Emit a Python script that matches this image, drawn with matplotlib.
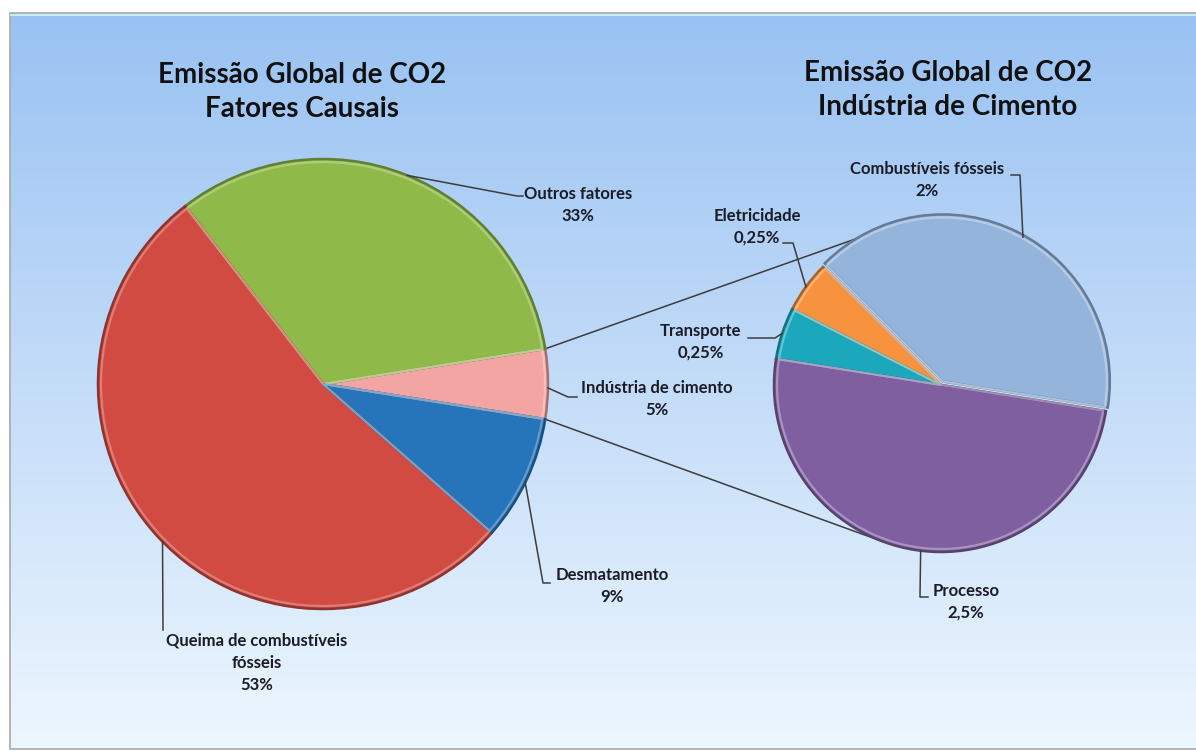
import matplotlib
matplotlib.use('Agg')
import matplotlib.pyplot as plt
import numpy as np
from matplotlib.colors import to_rgb
from matplotlib.patches import Rectangle

# ---- data ----
left_labels = ['Indústria de cimento', 'Outros fatores', 'Queima de combustíveis\nfósseis', 'Desmatamento']
left_values = [5, 33, 53, 9]
left_pct = ['5%', '33%', '53%', '9%']

right_labels = ['Combustíveis fósseis', 'Eletricidade', 'Transporte', 'Processo']
right_values = [2, 0.25, 0.25, 2.5]
right_pct = ['2%', '0,25%', '0,25%', '2,5%']

left_title = 'Emissão Global de CO2\nFatores Causais'
right_title = 'Emissão Global de CO2\nIndústria de Cimento'

left_colors = ['#f3a5a4', '#8fba4a', '#d14b43', '#2674b9']
right_colors = ['#95b4db', '#f7923e', '#1ba8bd', '#805fa0']

W, H = 1196, 754
plt.rcParams['font.family'] = ['Lato', 'DejaVu Sans']


def Y(y):
    return H - y


def shade(c, f):
    r = np.array(to_rgb(c))
    return tuple(r * f) if f < 1 else tuple(r + (1 - r) * (f - 1))


def edge(cx, cy, r, ang):
    a = np.deg2rad(ang)
    return cx + r * np.cos(a), cy + r * np.sin(a)


fig = plt.figure(figsize=(W / 100, H / 100), dpi=100)
ax = fig.add_axes([0, 0, 1, 1])

# background panel with vertical gradient
g = np.linspace(0, 1, 256)[:, None, None]
top = np.array([0.60, 0.76, 0.95])
bot = np.array([0.93, 0.965, 0.995])
img = top + (bot - top) * g
ax.imshow(img, extent=(10, W, Y(749), Y(13)), aspect='auto', origin='upper', zorder=0)
ax.add_patch(Rectangle((10, Y(749)), W - 9, 736, fill=False, edgecolor='#a8a8a8', lw=1.2, zorder=1))
ax.plot([11, W], [Y(14.5), Y(14.5)], color='#c9ecf7', lw=1.5, zorder=1)

# ---- left pie ----
lcx, lcy, lr = 323, Y(384), 225
wl, _ = ax.pie(left_values, colors=left_colors, startangle=-9, counterclock=True,
               center=(lcx, lcy), radius=lr, frame=True,
               wedgeprops=dict(linewidth=1.8))
for w, c in zip(wl, left_colors):
    w.set_edgecolor(shade(c, 0.68))
    w.set_zorder(3)
hl, _ = ax.pie(left_values, startangle=-9, counterclock=True,
               center=(lcx, lcy), radius=lr - 3, frame=True,
               wedgeprops=dict(fill=False, linewidth=1.6))
for w, c in zip(hl, left_colors):
    w.set_edgecolor(shade(c, 1.35))
    w.set_alpha(0.8)
    w.set_zorder(4)

# ---- right pie ----
rcx, rcy, rr = 941, Y(385), 167
explode = [4, 0, 0, 0]
wr, _ = ax.pie(right_values, colors=right_colors, startangle=-9, counterclock=True,
               center=(rcx, rcy), radius=rr, explode=explode, frame=True,
               wedgeprops=dict(linewidth=1.8))
for w, c in zip(wr, right_colors):
    w.set_edgecolor(shade(c, 0.68))
    w.set_zorder(3)
hr, _ = ax.pie(right_values, startangle=-9, counterclock=True,
               center=(rcx, rcy), radius=rr - 3, explode=explode, frame=True,
               wedgeprops=dict(fill=False, linewidth=1.6))
for w, c in zip(hr, right_colors):
    w.set_edgecolor(shade(c, 1.4))
    w.set_alpha(0.8)
    w.set_zorder(4)

# ---- connector lines between the pies ----
cem = wl[0]
p1 = edge(lcx, lcy, lr, cem.theta2)
p2 = edge(lcx, lcy, lr, cem.theta1)
q1 = edge(rcx, rcy, rr, 115)
q2 = edge(rcx, rcy, rr, 250)
lc = '#3c3c3c'
ax.plot([p1[0], q1[0]], [p1[1], q1[1]], color=lc, lw=1.1, zorder=2)
ax.plot([p2[0], q2[0]], [p2[1], q2[1]], color=lc, lw=1.1, zorder=2)

# ---- labels with leader lines ----
tc = '#1b1b25'
fs = 12


def label(text, x, y, start, path):
    xs = [start[0]] + [p[0] for p in path]
    ys = [start[1]] + [Y(p[1]) for p in path]
    ax.plot(xs, ys, color=lc, lw=1.1, zorder=5)
    ax.text(x, Y(y), text, ha='center', va='top', fontsize=fs, fontweight='bold',
            color=tc, linespacing=1.45, zorder=6)


# left pie
label(left_labels[1] + '\n' + left_pct[1], 578, 186, edge(lcx, lcy, lr, 68),
      [(517, 196), (523, 196)])
label(left_labels[0] + '\n' + left_pct[0], 657, 380, edge(lcx, lcy, lr, -1),
      [(568, 397), (577, 397)])
label(left_labels[3] + '\n' + left_pct[3], 612, 567, edge(lcx, lcy, lr, -26),
      [(543, 583), (550, 583)])
label(left_labels[2] + '\n' + left_pct[2], 257, 633, edge(lcx, lcy, lr, 224.5),
      [(163, 630)])

# right pie
label(right_labels[0] + '\n' + right_pct[0], 927, 161, edge(rcx, rcy, rr + 2, 61),
      [(1020, 175), (1011, 175)])
label(right_labels[1] + '\n' + right_pct[1], 757, 208, edge(rcx, rcy, rr, 144),
      [(793, 243), (783, 243)])
label(right_labels[2] + '\n' + right_pct[2], 701, 323, edge(rcx, rcy, rr, 162),
      [(775, 338), (748, 338)])
label(right_labels[3] + '\n' + right_pct[3], 966, 583, edge(rcx, rcy, rr, 263),
      [(920, 597), (928, 597)])

# ---- titles ----
ax.text(302, Y(92), left_title, ha='center', va='center', fontsize=20,
        fontweight='bold', color='#111111', linespacing=1.35, zorder=6)
ax.text(948, Y(90), right_title, ha='center', va='center', fontsize=20,
        fontweight='bold', color='#111111', linespacing=1.35, zorder=6)

ax.set_xlim(0, W)
ax.set_ylim(0, H)
ax.set_aspect('auto')
ax.axis('off')

plt.savefig('out.png', dpi=100, facecolor='white')
plt.close()
